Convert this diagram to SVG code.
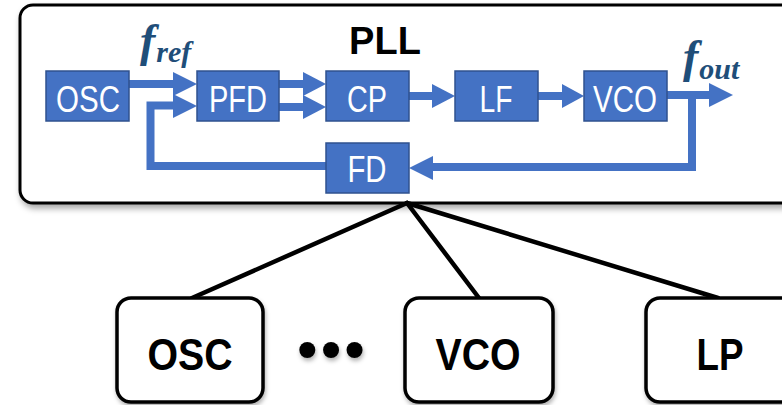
<svg xmlns="http://www.w3.org/2000/svg" width="782" height="405" viewBox="0 0 782 405">
<defs>
<filter id="sh" x="-10%" y="-10%" width="130%" height="140%">
<feDropShadow dx="2" dy="4" stdDeviation="3" flood-color="#000" flood-opacity="0.35"/>
</filter>
<filter id="sh2" x="-20%" y="-20%" width="160%" height="200%">
<feDropShadow dx="1" dy="3" stdDeviation="2" flood-color="#000" flood-opacity="0.3"/>
</filter>
</defs>
<style>
.blk{fill:#4472C4;stroke:#2F528F;stroke-width:1.5}
.bt{font-family:"Liberation Sans",Arial,sans-serif;font-size:37px;fill:#fff;text-anchor:middle}
.wl{stroke:#4472C4;stroke-width:8;fill:none}
.hd{fill:#4472C4}
.mod{fill:#fff;stroke:#000;stroke-width:3.5}
.mt{font-family:"Liberation Sans",Arial,sans-serif;font-size:45px;font-weight:bold;fill:#000;text-anchor:middle}
.fl{font-family:"Liberation Serif","Times New Roman",serif;font-weight:bold;font-style:italic;fill:#1F4E79}
.cn{stroke:#000;stroke-width:4.5;stroke-linecap:round}
</style>
<g id="pll">
<rect x="20" y="5" width="775" height="198" rx="13" fill="#fff" stroke="#000" stroke-width="3" filter="url(#sh)"/>
<text x="385" y="54" font-family="'Liberation Sans',Arial,sans-serif" font-size="38" font-weight="bold" text-anchor="middle">PLL</text>
</g>
<g id="flow">
<line class="wl" x1="129" y1="84" x2="176" y2="84"/>
<polygon class="hd" points="173,72 197,84 173,96"/>
<polyline class="wl" points="326,166 150.5,166 150.5,105.5 176,105.5" stroke-linejoin="miter"/>
<polygon class="hd" points="173,94 197,106 173,118"/>
<line class="wl" x1="279" y1="84" x2="305" y2="84"/>
<polygon class="hd" points="303,72 326,84 303,96"/>
<line class="wl" x1="279" y1="107" x2="305" y2="107"/>
<polygon class="hd" points="303,95 326,107 303,119"/>
<line class="wl" x1="409" y1="96" x2="434" y2="96"/>
<polygon class="hd" points="432,84 455,96 432,108"/>
<line class="wl" x1="538" y1="96" x2="564" y2="96"/>
<polygon class="hd" points="562,84 584,96 562,108"/>
<line class="wl" x1="667" y1="95" x2="711" y2="95"/>
<polygon class="hd" points="709,83 733,95 709,107"/>
<polyline class="wl" points="692,95 692,167 431,167"/>
<polygon class="hd" points="433,156 409,168 433,180"/>
</g>
<g id="osc"><rect class="blk" x="46" y="71" width="83" height="50"/><text class="bt" x="88" y="112" textLength="64" lengthAdjust="spacingAndGlyphs">OSC</text></g>
<g id="pfd"><rect class="blk" x="197" y="71" width="82" height="50"/><text class="bt" x="238" y="112" textLength="58" lengthAdjust="spacingAndGlyphs">PFD</text></g>
<g id="cp"><rect class="blk" x="326" y="71" width="83" height="50"/><text class="bt" x="367" y="112" textLength="40" lengthAdjust="spacingAndGlyphs">CP</text></g>
<g id="lf"><rect class="blk" x="455" y="71" width="83" height="50"/><text class="bt" x="496" y="112" textLength="33" lengthAdjust="spacingAndGlyphs">LF</text></g>
<g id="vco"><rect class="blk" x="584" y="71" width="83" height="50"/><text class="bt" x="625" y="112" textLength="64" lengthAdjust="spacingAndGlyphs">VCO</text></g>
<g id="fd"><rect class="blk" x="326" y="143" width="83" height="50"/><text class="bt" x="367" y="182" textLength="39" lengthAdjust="spacingAndGlyphs">FD</text></g>
<g id="fref"><text class="fl" x="140" y="56" font-size="46">f<tspan font-size="30" dx="1" dy="6">ref</tspan></text></g>
<g id="fout"><text class="fl" x="683" y="72" font-size="46">f<tspan font-size="30" dx="1" dy="7">out</tspan></text></g>
<g id="connectors">
<line class="cn" x1="407" y1="203" x2="192" y2="298"/>
<line class="cn" x1="407" y1="203" x2="479" y2="298"/>
<line class="cn" x1="407" y1="203" x2="718" y2="298"/>
</g>
<g id="m-osc"><rect class="mod" x="117" y="298" width="146" height="104" rx="14" filter="url(#sh2)"/><text class="mt" x="190" y="370" textLength="85" lengthAdjust="spacingAndGlyphs">OSC</text></g>
<g id="dots"><text x="333" y="368" font-family="'Liberation Sans',Arial,sans-serif" font-size="56" font-weight="bold" text-anchor="middle" letter-spacing="4" filter="url(#sh2)">•••</text></g>
<g id="m-vco"><rect class="mod" x="405" y="298" width="148" height="104" rx="14" filter="url(#sh2)"/><text class="mt" x="478" y="370" textLength="85" lengthAdjust="spacingAndGlyphs">VCO</text></g>
<g id="m-lp"><rect class="mod" x="646" y="298" width="150" height="104" rx="14" filter="url(#sh2)"/><text class="mt" x="720" y="370" textLength="47" lengthAdjust="spacingAndGlyphs">LP</text></g>
</svg>
